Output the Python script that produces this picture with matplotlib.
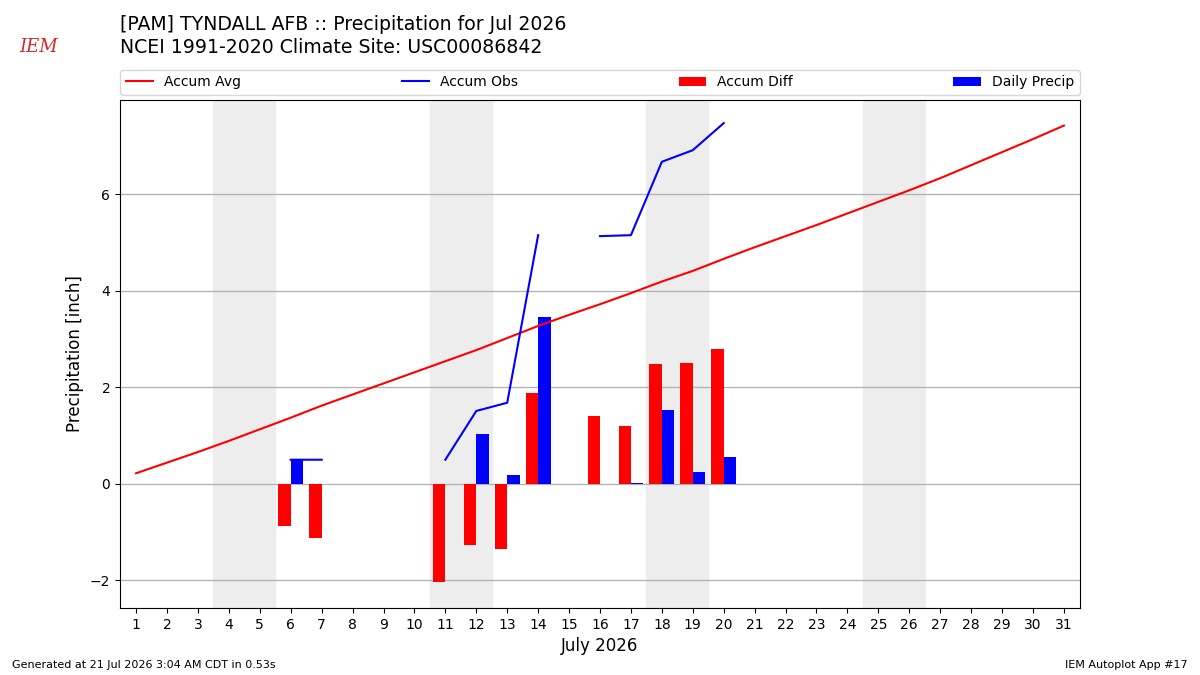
import matplotlib
matplotlib.use("Agg")
import matplotlib.pyplot as plt
import numpy as np

# July 2026, values in inches
days = list(range(1, 32))
accum_avg = [0.22, 0.44, 0.66, 0.89, 1.13, 1.37, 1.62, 1.85, 2.08, 2.31,
             2.54, 2.77, 3.02, 3.27, 3.50, 3.72, 3.95, 4.19, 4.41, 4.66,
             4.90, 5.13, 5.36, 5.60, 5.84, 6.08, 6.33, 6.60, 6.87, 7.14, 7.42]
nan = float("nan")
accum_obs = [nan, nan, nan, nan, nan, 0.50, 0.50, nan, nan, nan,
             0.50, 1.51, 1.68, 5.15, nan, 5.13, 5.15, 6.67, 6.91, 7.47]
daily_precip = [0, 0, 0, 0, 0, 0.50, 0, 0, 0, 0,
                0, 1.03, 0.19, 3.46, 0, 0, 0.01, 1.53, 0.25, 0.56]
accum_diff = [0, 0, 0, 0, 0, -0.87, -1.12, 0, 0, 0,
              -2.04, -1.26, -1.34, 1.88, 0, 1.41, 1.20, 2.48, 2.50, 2.80]
weekends = [(3.5, 5.5), (10.5, 12.5), (17.5, 19.5), (24.5, 26.5)]

fig = plt.figure(figsize=(12, 6.75), dpi=100)
ax = fig.add_axes([0.1, 0.0993, 0.8, 0.7526])

for lo, hi in weekends:
    ax.axvspan(lo, hi, color="#ededed", zorder=0)

obs_days = days[:len(accum_obs)]
ax.plot(days, accum_avg, color="r", lw=1.5, label="Accum Avg", zorder=3)
ax.plot(obs_days, accum_obs, color="b", lw=1.5, label="Accum Obs", zorder=3)
ax.bar(obs_days, accum_diff, width=-0.4, align="edge", color="r",
       label="Accum Diff", zorder=2)
ax.bar(obs_days, daily_precip, width=0.4, align="edge", color="b",
       label="Daily Precip", zorder=2)

ax.set_xlim(0.48, 31.52)
ax.set_ylim(-2.57, 7.95)
ax.set_xticks(days)
ax.set_yticks([-2, 0, 2, 4, 6])
ax.set_yticklabels(["\u22122", "0", "2", "4", "6"])
ax.yaxis.grid(True, color="#b0b0b0", lw=0.9)
ax.set_axisbelow(True)
ax.tick_params(labelsize=10)
ax.set_ylabel("Precipitation [inch]", fontsize=12)
ax.set_xlabel("July 2026", fontsize=12)

ax.legend(bbox_to_anchor=(0, 1.01, 1, 0.05), loc="lower left", mode="expand",
          ncol=4, fontsize=10, borderaxespad=0)

fig.text(0.1, 0.955, "[PAM] TYNDALL AFB :: Precipitation for Jul 2026",
         fontsize=13.6, va="baseline")
fig.text(0.1, 0.922, "NCEI 1991-2020 Climate Site: USC00086842",
         fontsize=13.6, va="baseline")

# logo stand-in
fig.text(0.032, 0.93, "IEM", fontsize=13, color="#d62728", family="serif",
         style="italic", ha="center", va="center")

fig.text(0.01, 0.01, "Generated at 21 Jul 2026 3:04 AM CDT in 0.53s", fontsize=8)
fig.text(0.99, 0.01, "IEM Autoplot App #17", fontsize=8, ha="right")

fig.savefig("out.png", dpi=100)
